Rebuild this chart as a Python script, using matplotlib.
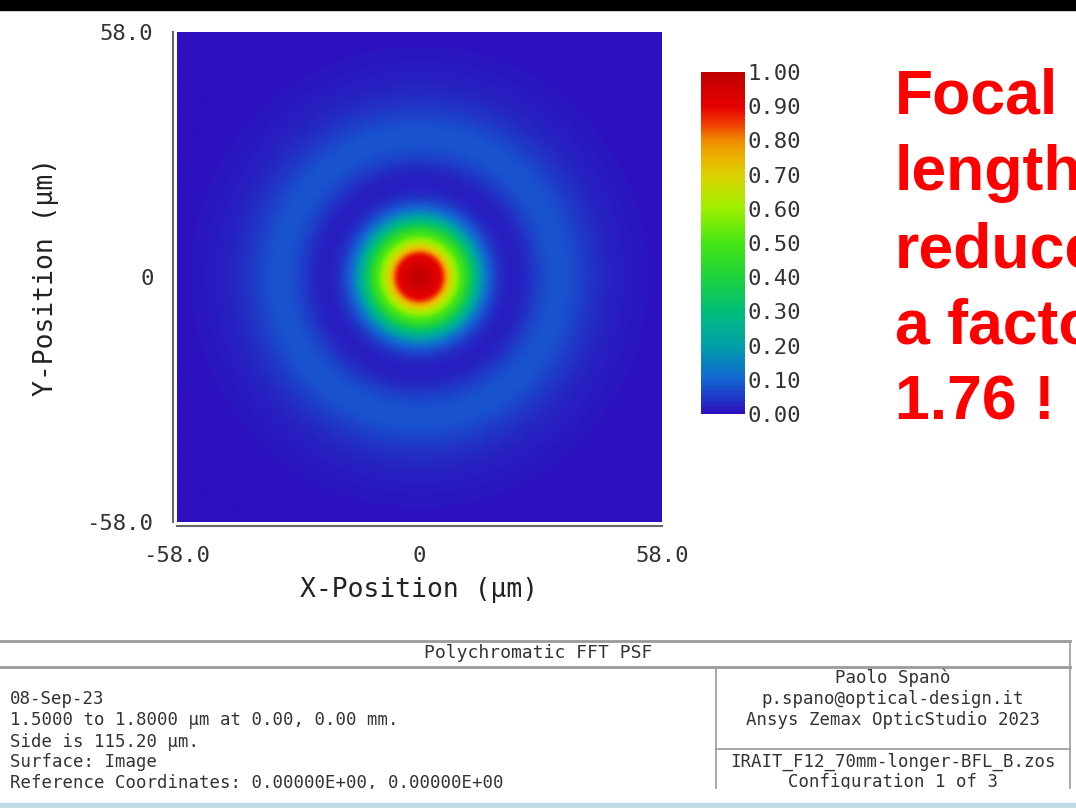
import numpy as np
import matplotlib
matplotlib.use("Agg")
import matplotlib.pyplot as plt
from matplotlib.colors import LinearSegmentedColormap
from matplotlib.lines import Line2D
from matplotlib.patches import Rectangle

plt.rcParams["font.family"] = ["DejaVu Sans Mono"]

# ---------------- data ----------------
# radial PSF profile: radius (um) -> normalised intensity
radius_um = [0, 2, 3, 4, 5, 5.5, 6, 6.5, 7, 8, 9, 10, 11, 12, 13, 14, 15, 16,
             17, 18, 19, 20, 21, 22, 24, 26, 28, 30, 32, 34, 36, 38, 40, 43,
             46, 50, 55, 60, 70, 85]
intensity = [1.0, 0.97, 0.95, 0.92, 0.89, 0.86, 0.82, 0.77, 0.72, 0.64, 0.57,
             0.50, 0.44, 0.37, 0.30, 0.23, 0.17, 0.12, 0.085, 0.06, 0.04, 0.03,
             0.022, 0.018, 0.022, 0.035, 0.055, 0.072, 0.082, 0.082, 0.074, 0.06,
             0.047, 0.032, 0.022, 0.013, 0.007, 0.004, 0.003, 0.002]
side_um = 115.2
n_pix = 400

axis_ticks = [-58.0, 0.0, 58.0]
axis_ticklabels = ["-58.0", "0", "58.0"]
cbar_ticks = [0.0, 0.1, 0.2, 0.3, 0.4, 0.5, 0.6, 0.7, 0.8, 0.9, 1.0]
cbar_ticklabels = ["0.00", "0.10", "0.20", "0.30", "0.40", "0.50",
                   "0.60", "0.70", "0.80", "0.90", "1.00"]

cmap_pos = [0.0, 0.05, 0.1, 0.2, 0.3, 0.4, 0.5, 0.6, 0.7, 0.75, 0.8, 0.85, 0.9, 1.0]
cmap_cols = ["#2d0fbe", "#1e3cc8", "#1464d2", "#00a0aa", "#00be78", "#1ed23c",
             "#46e614", "#9cf000", "#dcd200", "#ebb400", "#f08c00", "#f03c00",
             "#e60000", "#c00000"]

title_text = "Polychromatic FFT PSF"
left_lines = ["08-Sep-23",
              "1.5000 to 1.8000 \u00b5m at 0.00, 0.00 mm.",
              "Side is 115.20 \u00b5m.",
              "Surface: Image",
              "Reference Coordinates: 0.00000E+00, 0.00000E+00"]
left_line_y = [699, 720, 742, 762, 783]
right_lines = ["Paolo Span\u00f2",
               "p.spano@optical-design.it",
               "Ansys Zemax OpticStudio 2023",
               "IRAIT_F12_70mm-longer-BFL_B.zos",
               "Configuration 1 of 3"]
right_line_y = [678, 699, 720, 762, 782]
red_lines = ["Focal", "length", "reduced", "a factor", "1.76 !"]
red_baselines = [113, 190, 267, 343, 420]

# ---------------- figure ----------------
W, H = 1076, 808
fig = plt.figure(figsize=(W / 100, H / 100), dpi=100)
fig.patch.set_facecolor("white")

def fx(px):
    return px / W

def fy(py):
    return 1 - py / H

cmap = LinearSegmentedColormap.from_list("zemax", list(zip(cmap_pos, cmap_cols)))

# PSF image built from the radial profile
g = np.linspace(-side_um / 2, side_um / 2, n_pix)
X, Y = np.meshgrid(g, g)
R = np.hypot(X, Y)
img = np.interp(R, radius_um, intensity)

ax = fig.add_axes([fx(177), fy(522), fx(662) - fx(177), fy(32) - fy(522)])
im = ax.imshow(img, cmap=cmap, vmin=0, vmax=1, origin="lower",
               extent=[-58, 58, -58, 58], interpolation="bilinear", aspect="auto")
ax.set_xlim(-58, 58)
ax.set_ylim(-58, 58)
ax.set_xticks(axis_ticks)
ax.set_xticklabels(axis_ticklabels)
ax.set_yticks(axis_ticks)
ax.set_yticklabels(axis_ticklabels)
ax.tick_params(length=0, labelsize=16, colors="#333333", pad=14)
ax.set_xlabel("X-Position (\u00b5m)", fontsize=19, color="#222222", labelpad=8)
ax.set_ylabel("Y-Position (\u00b5m)", fontsize=19, color="#222222", labelpad=20)
for s in ["top", "right"]:
    ax.spines[s].set_visible(False)
for s in ["left", "bottom"]:
    ax.spines[s].set_color("#666666")
    ax.spines[s].set_linewidth(1.5)
    ax.spines[s].set_position(("outward", 3))

# colorbar
cax = fig.add_axes([fx(701), fy(414), fx(745) - fx(701), fy(72) - fy(414)])
cb = fig.colorbar(im, cax=cax, ticks=cbar_ticks)
cb.set_ticklabels(cbar_ticklabels)
cb.outline.set_visible(False)
cax.tick_params(length=0, labelsize=16, colors="#333333", pad=2)

# red annotation
for txt, yb in zip(red_lines, red_baselines):
    fig.text(fx(895), fy(yb), txt, color="#ff0000", fontsize=45,
             family="Liberation Sans", weight="bold", va="baseline", ha="left")

# top black bar
fig.add_artist(Rectangle((0, fy(10)), 1, 1 - fy(10), transform=fig.transFigure,
                         color="black", zorder=5))

# footer table
lc = "#9a9a9a"
def hline(y, x0, x1, lw=1.5):
    fig.add_artist(Line2D([fx(x0), fx(x1)], [fy(y), fy(y)], color=lc, lw=lw,
                          transform=fig.transFigure))

def vline(x, y0, y1, lw=1.2):
    fig.add_artist(Line2D([fx(x), fx(x)], [fy(y0), fy(y1)], color=lc, lw=lw,
                          transform=fig.transFigure))

hline(641, 0, 1070, 2.0)
hline(667, 0, 1070, 2.0)
hline(749, 716, 1070, 1.2)
vline(716, 667, 800)
vline(1070, 641, 800)

fig.text(fx(538), fy(653), title_text, ha="center", va="center",
         fontsize=13, color="#333333")
for txt, yy in zip(left_lines, left_line_y):
    fig.text(fx(10), fy(yy), txt, ha="left", va="center", fontsize=12.5,
             color="#333333")
for txt, yy in zip(right_lines, right_line_y):
    fig.text(fx(893), fy(yy), txt, ha="center", va="center", fontsize=12.5,
             color="#333333")

# bottom clipping strip and window band
fig.add_artist(Rectangle((0, fy(803)), 1, fy(789) - fy(803), transform=fig.transFigure,
                         color="white", zorder=10))
fig.add_artist(Rectangle((0, 0), 1, fy(803), transform=fig.transFigure,
                         color="#c4dbe8", zorder=11))

fig.savefig("out.png", dpi=100)
